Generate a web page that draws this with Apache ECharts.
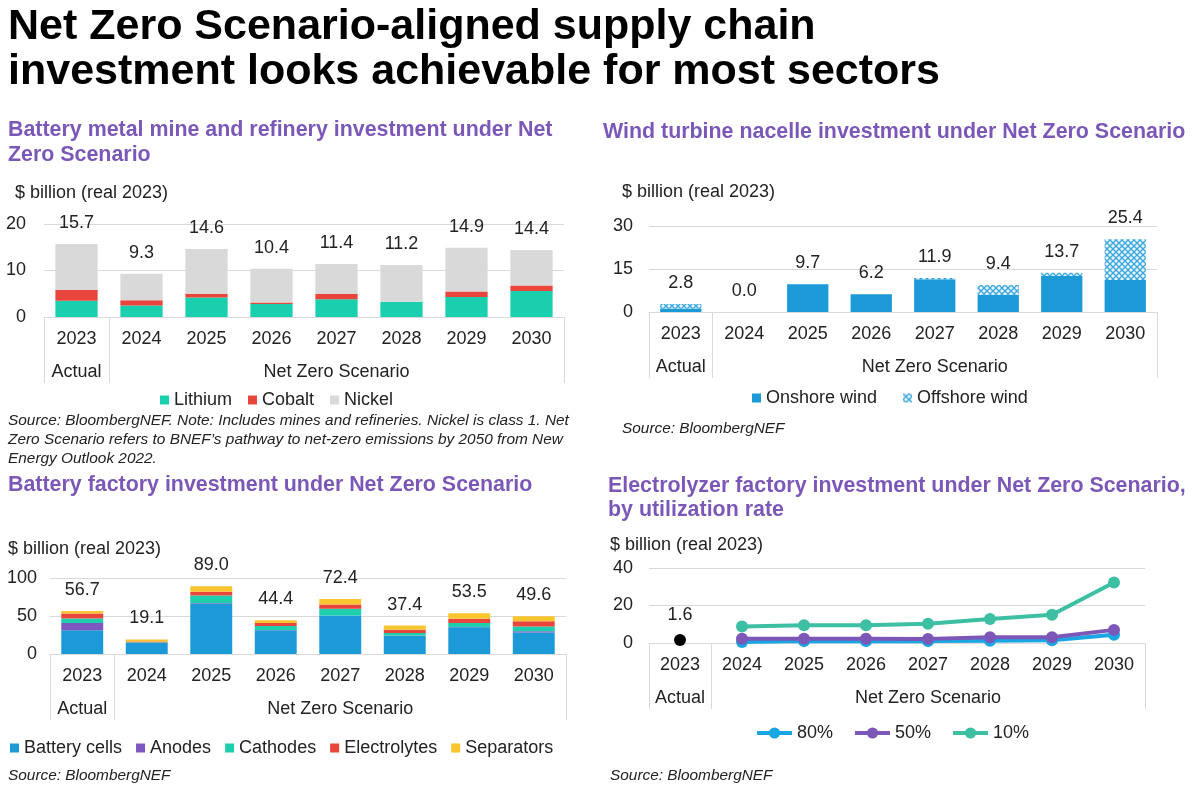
<!DOCTYPE html>
<html><head><meta charset="utf-8">
<script src="https://cdn.jsdelivr.net/npm/echarts@6/dist/echarts.min.js"></script>
<style>html,body{margin:0;padding:0;background:#fff}#c{width:1200px;height:789px}</style>
</head><body><div id="c"></div>
<script>
// ---------- data ----------
const years = ['2023','2024','2025','2026','2027','2028','2029','2030'];
const groupLabels = ['Actual','','','','Net Zero Scenario','','',''];
// Panel 1: battery metal mine and refinery investment ($bn)
const lithium = [3.5,2.5,4.2,2.8,3.8,3.3,4.3,5.6];
const cobalt  = [2.3,1.1,0.8,0.3,1.2,0,1.2,1.2];
const nickel  = [9.9,5.7,9.6,7.3,6.4,7.9,9.4,7.6];
const metalTotals = [15.7,9.3,14.6,10.4,11.4,11.2,14.9,14.4];
// Panel 2: wind turbine nacelle investment ($bn)
const onshore  = [1.2,0,9.7,6.2,11.4,6.0,12.6,11.2];
const offshore = [1.6,0,0,0,0.5,3.4,1.1,14.2];
const windTotals = [2.8,0.0,9.7,6.2,11.9,9.4,13.7,25.4];
// Panel 3: battery factory investment ($bn)
const cells        = [31.3,14.5,66.5,31.3,50.5,23.9,35.3,28.4];
const anodes       = [9.4,0.3,0.5,0.3,0.3,0.3,0.3,1.5];
const cathodes     = [6.0,0.8,10.0,5.3,8.8,3.4,5.2,6.3];
const electrolytes = [6.6,1.0,5.0,3.8,5.5,4.2,5.5,6.9];
const separators   = [3.4,2.5,7.0,3.7,7.3,5.6,7.2,6.5];
const factoryTotals = [56.7,19.1,89.0,44.4,72.4,37.4,53.5,49.6];
// Panel 4: electrolyzer factory investment by utilization rate ($bn)
const actual2023 = [1.6,'-','-','-','-','-','-','-'];
const util80 = ['-',0.5,1.0,1.0,1.0,1.2,1.5,4.4];
const util50 = ['-',2.3,2.3,2.3,2.2,3.1,3.1,7.0];
const util10 = ['-',8.8,9.5,9.5,10.3,12.8,15.1,32.3];

// ---------- style ----------
const FONT = 'Liberation Sans, Arial, sans-serif';
const TXT = '#222';
const GRID = '#d9d9d9';
const PURPLE = '#7b58b8';
const C = {
  lithium:'#19cfae', cobalt:'#e8453c', nickel:'#d9d9d9',
  onshore:'#1c9ad8',
  cells:'#1b9ad7', anodes:'#7f57c0', cathodes:'#1ecfae', electrolytes:'#e8453c', separators:'#f9c52f',
  u80:'#1aa6e2', u50:'#7c57b8', u10:'#3dbfa3'
};
function makeHatch(){
  const c=document.createElement('canvas'); c.width=6; c.height=6;
  const g=c.getContext('2d');
  g.fillStyle='#e6f4fb'; g.fillRect(0,0,6,6);
  g.strokeStyle='#3aa6dc'; g.lineWidth=1.3;
  g.beginPath(); g.moveTo(0,0); g.lineTo(6,6); g.moveTo(6,0); g.lineTo(0,6); g.stroke();
  return c;
}
const hatch = {image: makeHatch(), repeat:'repeat'};

function catAxes(gi){
  return [
    {type:'category', gridIndex:gi, data:years,
     axisLine:{lineStyle:{color:GRID, width:1}},
     axisTick:{show:true, interval:(i)=>i<=1, length:66, lineStyle:{color:GRID}},
     axisLabel:{interval:0, margin:13, fontSize:18, color:TXT}},
    {type:'category', gridIndex:gi, data:groupLabels, position:'bottom', offset:33,
     axisLine:{show:false}, axisTick:{show:false},
     axisLabel:{interval:0, margin:13, fontSize:18, color:TXT}}
  ];
}
function valAxis(gi,max,interval,margin){
  return {type:'value', gridIndex:gi, min:0, max:max, interval:interval,
    axisLabel:{fontSize:18, color:TXT, margin:margin},
    splitLine:{lineStyle:{color:GRID}}, axisLine:{show:false}, axisTick:{show:false}};
}
function totalLabel(arr){
  return {show:true, position:'top', distance:12, fontSize:18, color:TXT,
    formatter:p=>arr[p.dataIndex].toFixed(1)};
}
function bar(name,gi,stack,data,color,label){
  const s={name:name, type:'bar', xAxisIndex:gi*2, yAxisIndex:gi, stack:stack, data:data,
    barWidth:'65%', itemStyle:{color:color}};
  if(label) s.label=label;
  return s;
}
function line(name,data,color){
  return {name:name, type:'line', xAxisIndex:6, yAxisIndex:3, data:data,
    symbol:'circle', symbolSize:12, showSymbol:true,
    lineStyle:{color:color, width:4}, itemStyle:{color:color}};
}
const legendBase = {padding:0, itemWidth:9, itemHeight:9, icon:'rect', textStyle:{fontSize:18, color:TXT}};
const panelTitle = {fontSize:21.4, fontWeight:'bold', color:PURPLE, lineHeight:25, fontFamily:FONT};
const unitStyle = {fontSize:18, fontWeight:'normal', color:TXT, lineHeight:20, fontFamily:FONT};
const srcStyle = {fontSize:15.4, fontStyle:'italic', fontWeight:'normal', color:TXT, lineHeight:19, fontFamily:FONT};

const option = {
  animation:false,
  backgroundColor:'#fff',
  textStyle:{fontFamily:FONT},
  title:[
    {text:'Net Zero Scenario-aligned supply chain\ninvestment looks achievable for most sectors', left:8, top:5, padding:0,
     textStyle:{fontSize:43, fontWeight:'bold', color:'#000', lineHeight:45, fontFamily:FONT}},
    {text:'Battery metal mine and refinery investment under Net\nZero Scenario', left:8, top:118, padding:0, textStyle:panelTitle},
    {text:'Wind turbine nacelle investment under Net Zero Scenario', left:603, top:120, padding:0, textStyle:panelTitle},
    {text:'Battery factory investment under Net Zero Scenario', left:8, top:473, padding:0, textStyle:panelTitle},
    {text:'Electrolyzer factory investment under Net Zero Scenario,\nby utilization rate', left:608, top:474, padding:0,
     textStyle:Object.assign({}, panelTitle, {lineHeight:24})},
    {text:'$ billion (real 2023)', left:15, top:183, padding:0, textStyle:unitStyle},
    {text:'$ billion (real 2023)', left:622, top:182, padding:0, textStyle:unitStyle},
    {text:'$ billion (real 2023)', left:8, top:539, padding:0, textStyle:unitStyle},
    {text:'$ billion (real 2023)', left:610, top:535, padding:0, textStyle:unitStyle},
    {text:'Source: BloombergNEF. Note: Includes mines and refineries. Nickel is class 1. Net\nZero Scenario refers to BNEF\u2019s pathway to net-zero emissions by 2050 from New\nEnergy Outlook 2022.', left:8, top:411, padding:0, textStyle:srcStyle},
    {text:'Source: BloombergNEF', left:622, top:419, padding:0, textStyle:srcStyle},
    {text:'Source: BloombergNEF', left:8, top:766, padding:0, textStyle:srcStyle},
    {text:'Source: BloombergNEF', left:610, top:766, padding:0, textStyle:srcStyle}
  ],
  legend:[
    Object.assign({}, legendBase, {data:['Lithium','Cobalt','Nickel'], left:160, top:391, itemGap:16}),
    Object.assign({}, legendBase, {data:['Onshore wind','Offshore wind'], left:752, top:389, itemGap:26}),
    Object.assign({}, legendBase, {data:['Battery cells','Anodes','Cathodes','Electrolytes','Separators'], left:10, top:739, itemGap:14}),
    {data:['80%','50%','10%'], left:755, top:724, padding:0, itemWidth:35, itemHeight:14, itemGap:20,
     lineStyle:{width:4}, textStyle:{fontSize:18, color:TXT}}
  ],
  grid:[
    {left:44, top:224, width:520, height:93},
    {left:649, top:226, width:508, height:86},
    {left:50, top:578, width:516, height:76},
    {left:649, top:568, width:496, height:75}
  ],
  xAxis:[].concat(catAxes(0), catAxes(1), catAxes(2), catAxes(3)),
  yAxis:[valAxis(0,20,10,18), valAxis(1,30,15,16), valAxis(2,100,50,13), valAxis(3,40,20,16)],
  series:[
    bar('Lithium',0,'m',lithium,C.lithium),
    bar('Cobalt',0,'m',cobalt,C.cobalt),
    bar('Nickel',0,'m',nickel,C.nickel,totalLabel(metalTotals)),
    bar('Onshore wind',1,'w',onshore,C.onshore),
    bar('Offshore wind',1,'w',offshore,hatch,totalLabel(windTotals)),
    bar('Battery cells',2,'f',cells,C.cells),
    bar('Anodes',2,'f',anodes,C.anodes),
    bar('Cathodes',2,'f',cathodes,C.cathodes),
    bar('Electrolytes',2,'f',electrolytes,C.electrolytes),
    bar('Separators',2,'f',separators,C.separators,totalLabel(factoryTotals)),
    line('80%',util80,C.u80),
    line('50%',util50,C.u50),
    line('10%',util10,C.u10),
    {name:'Actual 2023', type:'scatter', xAxisIndex:6, yAxisIndex:3, data:actual2023,
     symbol:'circle', symbolSize:12, itemStyle:{color:'#000', opacity:1},
     label:{show:true, position:'top', distance:10, fontSize:18, color:TXT, opacity:1, formatter:p=>p.value.toFixed(1)}}
  ]
};
const chart = echarts.init(document.getElementById('c'), null, {renderer:'canvas'});
chart.setOption(option);
</script>
</body></html>
